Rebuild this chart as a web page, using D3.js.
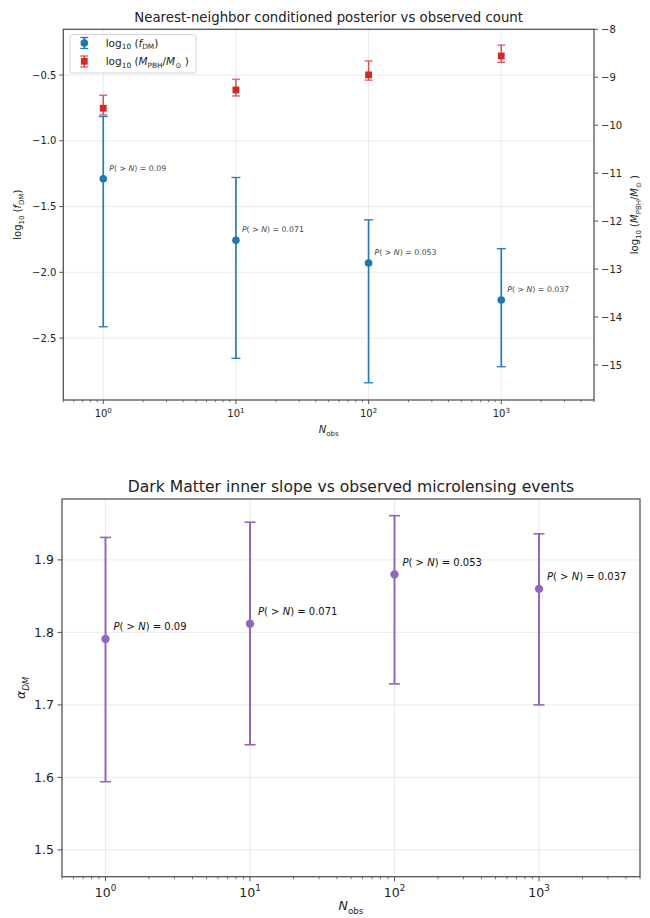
<!DOCTYPE html>
<html>
<head>
<meta charset="utf-8">
<script src="https://cdn.jsdelivr.net/npm/d3@7"></script>
<style>
  html, body { margin: 0; padding: 0; background: #fff; }
  svg { display: block; font-family: "DejaVu Sans", sans-serif; }
</style>
</head>
<body>
<svg id="fig" width="650" height="918"></svg>
<script>
// Observed microlensing event counts
const nObs = [1, 10, 100, 1000];
// Tail probability P(>N) for each count
const pGreater = [0.09, 0.071, 0.053, 0.037];

// Panel 1: log10 f_DM (median and credible interval bounds)
const logFdm   = [-1.289, -1.757, -1.929, -2.211];
const logFdmLo = [-2.414, -2.654, -2.840, -2.718];
const logFdmHi = [-0.815, -1.279, -1.601, -1.820];

// Panel 1: log10 M_PBH / M_sun on the secondary axis
const logMpbh   = [-9.646, -9.265, -8.950, -8.556];
const logMpbhLo = [-9.785, -9.390, -9.060, -8.690];
const logMpbhHi = [-9.375, -9.040, -8.660, -8.330];

// Panel 2: inner dark-matter slope
const alphaDm   = [1.791, 1.812, 1.880, 1.860];
const alphaLo   = [1.594, 1.645, 1.729, 1.700];
const alphaHi   = [1.931, 1.952, 1.961, 1.936];

// Axis tick values
const xMajorTicks = [1, 10, 100, 1000];
const fdmTicks = [-2.5, -2.0, -1.5, -1.0, -0.5];
const mpbhTicks = [-15, -14, -13, -12, -11, -10, -9, -8];
const alphaTicks = [1.5, 1.6, 1.7, 1.8, 1.9];

const C_BLUE = "#1f77b4", C_RED = "#d62728", C_PURPLE = "#9467bd";
const SPINE = "#555", TXT = "#222", GRID = "#e8e8e8";

const svg = d3.select("#fig");
const fmtMinus = v => String(v).replace("-", "\u2212");
const fmt1 = v => fmtMinus(d3.format(".1f")(v));

// Write mathtext-like segments into a text element
function rich(textSel, segs, size) {
  let cur = 0;
  segs.forEach(s => {
    const off = s.sub ? size * 0.28 : s.sup ? -size * 0.45 : 0;
    const ts = textSel.append("tspan")
      .text(s.t)
      .attr("dy", off - cur)
      .attr("font-size", (s.sub || s.sup) ? size * 0.7 : size);
    if (s.it) ts.attr("font-style", "italic");
    cur = off;
  });
  return textSel;
}

function minorTicks(domain) {
  const out = [];
  for (let e = -1; e <= 4; e++) {
    for (let k = 2; k <= 9; k++) {
      const v = k * Math.pow(10, e);
      if (v >= domain[0] && v <= domain[1]) out.push(v);
    }
  }
  return out;
}

function logXAxis(g, x, y0, fs, tickLen, labelOffset) {
  const minors = minorTicks(x.domain());
  g.selectAll(".minor").data(minors).join("line")
    .attr("x1", d => x(d)).attr("x2", d => x(d))
    .attr("y1", y0).attr("y2", y0 + tickLen * 0.57)
    .attr("stroke", SPINE).attr("stroke-width", 0.8);
  g.selectAll(".major").data(xMajorTicks).join("line")
    .attr("x1", d => x(d)).attr("x2", d => x(d))
    .attr("y1", y0).attr("y2", y0 + tickLen)
    .attr("stroke", SPINE).attr("stroke-width", 1);
  xMajorTicks.forEach(d => {
    const t = g.append("text")
      .attr("x", x(d)).attr("y", y0 + labelOffset)
      .attr("text-anchor", "middle").attr("fill", TXT);
    rich(t, [{t: "10"}, {t: String(Math.round(Math.log10(d))), sup: true}], fs);
  });
}

function drawErrorbars(g, x, y, xs, mid, lo, hi, color, capW, lw, opacity) {
  const grp = g.append("g").attr("opacity", opacity);
  xs.forEach((xv, i) => {
    const cx = x(xv);
    grp.append("line").attr("x1", cx).attr("x2", cx)
      .attr("y1", y(lo[i])).attr("y2", y(hi[i]))
      .attr("stroke", color).attr("stroke-width", lw);
    [lo[i], hi[i]].forEach(v => {
      grp.append("line").attr("x1", cx - capW / 2).attr("x2", cx + capW / 2)
        .attr("y1", y(v)).attr("y2", y(v))
        .attr("stroke", color).attr("stroke-width", lw * 0.8);
    });
  });
}

function annotateP(g, x, y, mid, fs, color, dx, dy) {
  nObs.forEach((xv, i) => {
    const t = g.append("text")
      .attr("x", x(xv) + dx).attr("y", y(mid[i]) + dy)
      .attr("fill", color);
    rich(t, [{t: "P", it: true}, {t: "( > "}, {t: "N", it: true}, {t: ") = " + String(pGreater[i])}], fs);
  });
}

/* ---------------- Panel 1 ---------------- */
{
  const L = 63.3, R = 594, T = 29.3, B = 400;
  const x = d3.scaleLog().domain([0.5, 5000]).range([L, R]);
  const y = d3.scaleLinear().domain([-2.971, -0.152]).range([B, T]);
  const y2 = d3.scaleLinear().domain([-15.73, -8]).range([B, T]);
  const g = svg.append("g");

  // grid
  g.selectAll(".gx").data(xMajorTicks).join("line")
    .attr("x1", d => x(d)).attr("x2", d => x(d)).attr("y1", T).attr("y2", B)
    .attr("stroke", GRID).attr("stroke-width", 0.9);
  g.selectAll(".gy").data(fdmTicks).join("line")
    .attr("x1", L).attr("x2", R).attr("y1", d => y(d)).attr("y2", d => y(d))
    .attr("stroke", GRID).attr("stroke-width", 0.9);

  // f_DM series
  drawErrorbars(g, x, y, nObs, logFdm, logFdmLo, logFdmHi, C_BLUE, 9, 1.7, 0.95);
  g.selectAll(".fdm").data(nObs).join("circle")
    .attr("cx", d => x(d)).attr("cy", (d, i) => y(logFdm[i])).attr("r", 3.8)
    .attr("fill", C_BLUE);

  // M_PBH series on the secondary axis
  drawErrorbars(g, x, y2, nObs, logMpbh, logMpbhLo, logMpbhHi, C_RED, 8, 1.5, 0.8);
  g.selectAll(".mpbh").data(nObs).join("rect")
    .attr("x", d => x(d) - 3.4).attr("y", (d, i) => y2(logMpbh[i]) - 3.4)
    .attr("width", 6.8).attr("height", 6.8).attr("fill", C_RED);

  annotateP(g, x, y, logFdm, 7.8, "#444", 6, -8);

  // spines
  g.append("rect").attr("x", L).attr("y", T).attr("width", R - L).attr("height", B - T)
    .attr("fill", "none").attr("stroke", SPINE).attr("stroke-width", 1.3);

  // x axis
  logXAxis(g, x, B, 10, 4, 17);
  const xl = g.append("text").attr("x", (L + R) / 2).attr("y", 433)
    .attr("text-anchor", "middle").attr("fill", TXT);
  rich(xl, [{t: "N", it: true}, {t: "obs", sub: true}], 10);

  // left y axis
  fdmTicks.forEach(d => {
    g.append("line").attr("x1", L - 4).attr("x2", L).attr("y1", y(d)).attr("y2", y(d))
      .attr("stroke", SPINE);
    g.append("text").attr("x", L - 7).attr("y", y(d) + 3.6)
      .attr("text-anchor", "end").attr("fill", TXT).attr("font-size", 10).text(fmt1(d));
  });
  const yl = g.append("text").attr("text-anchor", "middle").attr("fill", TXT)
    .attr("transform", `translate(21,${(T + B) / 2}) rotate(-90)`);
  rich(yl, [{t: "log"}, {t: "10", sub: true}, {t: " ("}, {t: "f", it: true}, {t: "DM", sub: true}, {t: ")"}], 10);

  // right y axis
  mpbhTicks.forEach(d => {
    g.append("line").attr("x1", R).attr("x2", R + 4).attr("y1", y2(d)).attr("y2", y2(d))
      .attr("stroke", SPINE);
    g.append("text").attr("x", R + 7).attr("y", y2(d) + 3.6)
      .attr("text-anchor", "start").attr("fill", TXT).attr("font-size", 10).text(fmtMinus(d));
  });
  const yr = g.append("text").attr("text-anchor", "middle").attr("fill", TXT)
    .attr("transform", `translate(638,${(T + B) / 2}) rotate(-90)`);
  rich(yr, [{t: "log"}, {t: "10", sub: true}, {t: " ("}, {t: "M", it: true}, {t: "PBH", sub: true},
            {t: "/"}, {t: "M", it: true}, {t: "\u2299", sub: true}, {t: " )"}], 10);

  // title
  g.append("text").attr("x", (L + R) / 2).attr("y", 22).attr("text-anchor", "middle")
    .attr("fill", TXT).attr("font-size", 13.3)
    .text("Nearest-neighbor conditioned posterior vs observed count");

  // legend
  const lg = g.append("g");
  lg.append("rect").attr("x", 70).attr("y", 34.5).attr("width", 126).attr("height", 38.5)
    .attr("rx", 2.5).attr("fill", "#fff").attr("fill-opacity", 0.85)
    .attr("stroke", "#d0d0d0").attr("stroke-width", 0.9);
  const lx = 84.3;
  // blue entry
  lg.append("line").attr("x1", lx).attr("x2", lx).attr("y1", 37.5).attr("y2", 48.5)
    .attr("stroke", C_BLUE).attr("stroke-width", 1.7);
  [37.5, 48.5].forEach(v => lg.append("line").attr("x1", lx - 4).attr("x2", lx + 4)
    .attr("y1", v).attr("y2", v).attr("stroke", C_BLUE).attr("stroke-width", 1.3));
  lg.append("circle").attr("cx", lx).attr("cy", 43).attr("r", 3.8).attr("fill", C_BLUE);
  const t1 = lg.append("text").attr("x", 105.7).attr("y", 46.5).attr("fill", TXT);
  rich(t1, [{t: "log"}, {t: "10", sub: true}, {t: " ("}, {t: "f", it: true}, {t: "DM", sub: true}, {t: ")"}], 10.5);
  // red entry
  lg.append("line").attr("x1", lx).attr("x2", lx).attr("y1", 56).attr("y2", 67)
    .attr("stroke", C_RED).attr("stroke-width", 1.5).attr("opacity", 0.85);
  [56, 67].forEach(v => lg.append("line").attr("x1", lx - 4).attr("x2", lx + 4)
    .attr("y1", v).attr("y2", v).attr("stroke", C_RED).attr("stroke-width", 1.2).attr("opacity", 0.85));
  lg.append("rect").attr("x", lx - 3.4).attr("y", 61.3 - 3.4).attr("width", 6.8).attr("height", 6.8)
    .attr("fill", C_RED);
  const t2 = lg.append("text").attr("x", 105.7).attr("y", 65).attr("fill", TXT);
  rich(t2, [{t: "log"}, {t: "10", sub: true}, {t: " ("}, {t: "M", it: true}, {t: "PBH", sub: true},
            {t: "/"}, {t: "M", it: true}, {t: "\u2299", sub: true}, {t: " )"}], 10.5);
}

/* ---------------- Panel 2 ---------------- */
{
  const L = 62, R = 640, T = 499, B = 876.7;
  const x = d3.scaleLog().domain([0.5, 5000]).range([L, R]);
  const y = d3.scaleLinear().domain([1.463, 1.984]).range([B, T]);
  const g = svg.append("g");

  g.selectAll(".gx").data(xMajorTicks).join("line")
    .attr("x1", d => x(d)).attr("x2", d => x(d)).attr("y1", T).attr("y2", B)
    .attr("stroke", GRID).attr("stroke-width", 0.9);
  g.selectAll(".gy").data(alphaTicks).join("line")
    .attr("x1", L).attr("x2", R).attr("y1", d => y(d)).attr("y2", d => y(d))
    .attr("stroke", GRID).attr("stroke-width", 0.9);

  drawErrorbars(g, x, y, nObs, alphaDm, alphaLo, alphaHi, C_PURPLE, 11, 2, 1);
  g.selectAll(".alpha").data(nObs).join("circle")
    .attr("cx", d => x(d)).attr("cy", (d, i) => y(alphaDm[i])).attr("r", 4.2)
    .attr("fill", C_PURPLE);

  annotateP(g, x, y, alphaDm, 10, "#111", 8, -8.5);

  g.append("rect").attr("x", L).attr("y", T).attr("width", R - L).attr("height", B - T)
    .attr("fill", "none").attr("stroke", SPINE).attr("stroke-width", 1.3);

  logXAxis(g, x, B, 12.5, 4.5, 20);
  const xl = g.append("text").attr("x", (L + R) / 2).attr("y", 910)
    .attr("text-anchor", "middle").attr("fill", TXT);
  rich(xl, [{t: "N", it: true}, {t: "obs", sub: true}], 12.5);

  alphaTicks.forEach(d => {
    g.append("line").attr("x1", L - 4.5).attr("x2", L).attr("y1", y(d)).attr("y2", y(d))
      .attr("stroke", SPINE);
    g.append("text").attr("x", L - 8).attr("y", y(d) + 4.5)
      .attr("text-anchor", "end").attr("fill", TXT).attr("font-size", 12.5).text(fmt1(d));
  });
  const yl = g.append("text").attr("text-anchor", "middle").attr("fill", TXT)
    .attr("transform", `translate(25,${(T + B) / 2}) rotate(-90)`);
  rich(yl, [{t: "\u03b1", it: true}, {t: "DM", sub: true, it: true}], 12.5);

  g.append("text").attr("x", (L + R) / 2).attr("y", 492).attr("text-anchor", "middle")
    .attr("fill", TXT).attr("font-size", 15.6)
    .text("Dark Matter inner slope vs observed microlensing events");
}
</script>
</body>
</html>
